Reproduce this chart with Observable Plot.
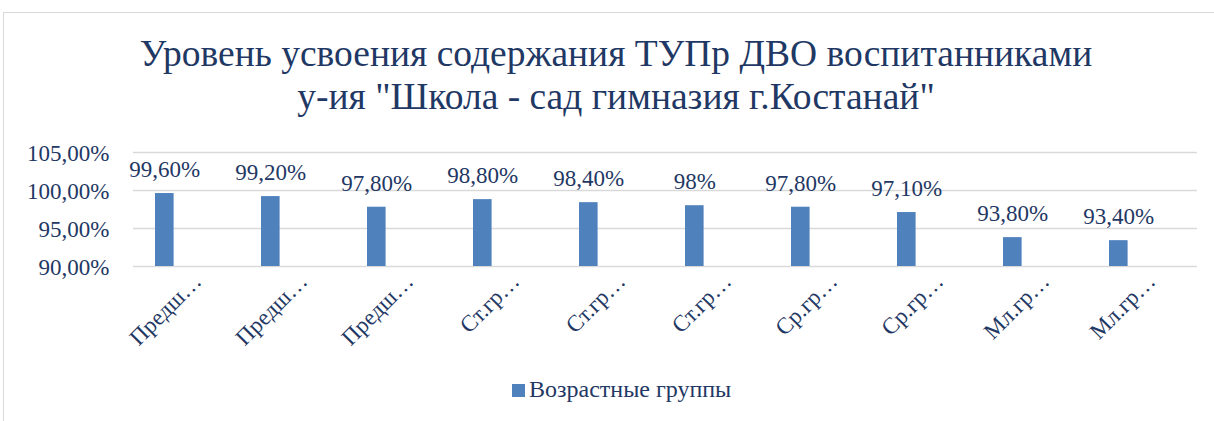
<!DOCTYPE html>
<html>
<head>
<meta charset="utf-8">
<script src="https://cdn.jsdelivr.net/npm/d3@7"></script>
<script src="https://cdn.jsdelivr.net/npm/@observablehq/plot@0.6"></script>
</head>
<body style="margin:0;padding:0;background:#fff">
<div id="wrap" style="position:relative;width:1214px;height:421px;overflow:hidden;font-family:'Liberation Serif';color:#1f3864">
  <div style="position:absolute;left:3px;top:12px;right:-10px;bottom:-10px;border:1.5px solid #d9d9d9"></div>
  <div id="chart" style="position:absolute;left:0;top:0"></div>
  <div style="position:absolute;left:0;top:33px;width:1232px;text-align:center;font-family:'Liberation Serif';font-size:37.5px;line-height:42px;white-space:nowrap">Уровень усвоения содержания ТУПр ДВО воспитанниками</div>
  <div style="position:absolute;left:0;top:76px;width:1232px;text-align:center;font-family:'Liberation Serif';font-size:37.5px;line-height:42px;white-space:nowrap">у-ия "Школа - сад гимназия г.Костанай"</div>
  <div style="position:absolute;left:512px;top:377px;font-family:'Liberation Serif';font-size:24px;line-height:24px;white-space:nowrap"><span style="display:inline-block;width:13px;height:13px;background:#4f81bd;margin-right:4px"></span>Возрастные группы</div>
</div>
<script>
const categories = ["Предш…", "Предш…", "Предш…", "Ст.гр…", "Ст.гр…", "Ст.гр…", "Ср.гр…", "Ср.гр…", "Мл.гр…", "Мл.гр…"];
const values = [99.6, 99.2, 97.8, 98.8, 98.4, 98, 97.8, 97.1, 93.8, 93.4];
const valueLabels = ["99,60%", "99,20%", "97,80%", "98,80%", "98,40%", "98%", "97,80%", "97,10%", "93,80%", "93,40%"];
const yTicks = [90, 95, 100, 105];

const data = values.map((v, i) => ({i, v, label: valueLabels[i]}));
const navy = "#1f3864";
const serif = "Liberation Serif";
const left = 133, right = 1197;
const band = (right - left) / categories.length;
const barW = 19, barOff = 20;
const dxBar = barOff + barW / 2 - band / 2;

const chart = Plot.plot({
  width: 1214,
  height: 421,
  marginLeft: left,
  marginRight: 1214 - right,
  marginTop: 152,
  marginBottom: 421 - 266,
  style: {fontFamily: serif, fontSize: "23px", color: navy, background: "transparent"},
  x: {type: "band", domain: d3.range(categories.length), paddingInner: 0, paddingOuter: 0, axis: null},
  y: {domain: [90, 105], axis: null},
  marks: [
    Plot.gridY(yTicks, {stroke: "#d9d9d9", strokeOpacity: 1, strokeWidth: 1.5}),
    Plot.axisY(yTicks, {tickSize: 0, tickPadding: 24, fontSize: 23, fontFamily: serif, fill: navy, label: null, dy: 1.5, tickFormat: d => d.toFixed(2).replace(".", ",") + "%"}),
    Plot.axisX(d3.range(categories.length), {tickSize: 0, tickPadding: 8, tickRotate: -45, fontSize: 23, fontFamily: serif, fill: navy, label: null, tickFormat: i => categories[i], dx: 9, dy: 3}),
    Plot.barY(data, {x: "i", y1: 90, y2: "v", fill: "#4f81bd", insetLeft: barOff, insetRight: band - barOff - barW}),
    Plot.text(data, {x: "i", y: "v", text: "label", dx: dxBar, dy: -24, fontSize: 23, fontFamily: serif, fill: navy})
  ]
});
document.getElementById("chart").appendChild(chart);
</script>
</body>
</html>
